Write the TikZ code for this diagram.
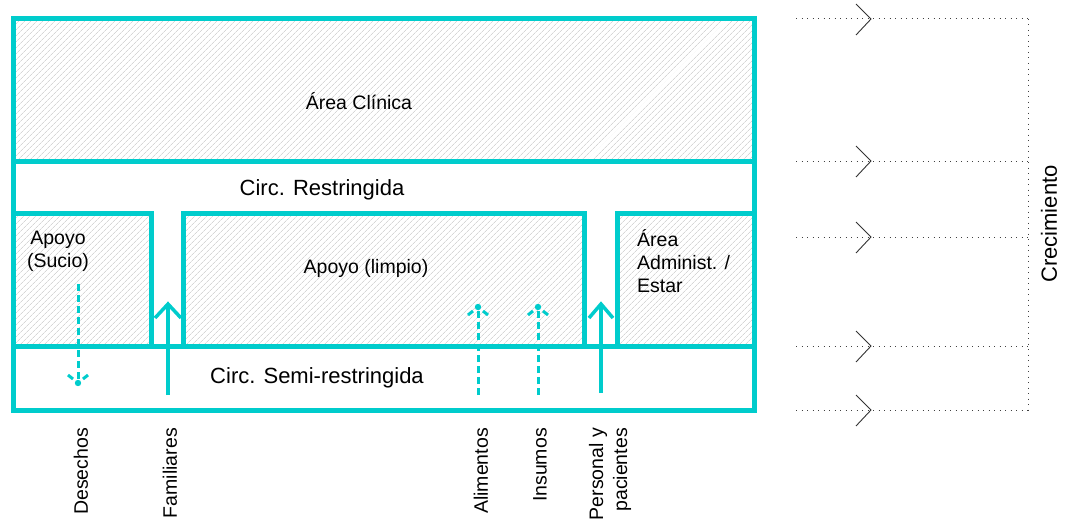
\documentclass[tikz,border=0pt]{standalone}
\usepackage{fontspec}
\setmainfont{Liberation Sans}
\usetikzlibrary{patterns.meta}
\definecolor{tealwall}{HTML}{00CCCC}
\definecolor{hatchgray}{HTML}{D6D6D6}
\begin{document}
\begin{tikzpicture}[x=1pt,y=-1pt,
  wall/.style={draw=tealwall,line width=5pt},
  zone/.style={pattern={Lines[angle=45,distance=4pt,line width=0.7pt]},pattern color=hatchgray},
  lbl/.style={font=\fontsize{19.5}{23}\selectfont,text=black,align=center,inner sep=0pt},
  big/.style={font=\fontsize{22}{26}\selectfont,text=black,inner sep=0pt},
  vlbl/.style={font=\fontsize{19.5}{24}\selectfont,text=black,rotate=90,anchor=east,inner sep=0pt,align=right},
  flow/.style={draw=tealwall,line width=3.5pt},
  dflow/.style={draw=tealwall,line width=3pt,dash pattern=on 7pt off 4pt},
  dhead/.style={draw=tealwall,line width=3pt},
  growline/.style={draw=black!75,line width=1pt,dash pattern=on 1pt off 4.5pt},
  chev/.style={draw=black!80,line width=0.9pt}]

\useasboundingbox (0,0) rectangle (1065,519);

% hatched zones
\path[zone] (13,19) rectangle (754,161);
\path[zone] (13,213) rectangle (151,346);
\path[zone] (183,213) rectangle (584,346);
\path[zone] (617,213) rectangle (754,346);

% walls
\draw[wall] (13,19) rectangle (754,410);
\draw[wall] (13,161) -- (754,161);
\draw[wall] (13,346) -- (754,346);
\draw[wall] (13,213) -- (151,213) -- (151,346);
\draw[wall] (183,346) -- (183,213) -- (584,213) -- (584,346);
\draw[wall] (617,346) -- (617,213) -- (754,213);

% zone labels
\node[lbl] (clin) at (359,101) {Área Clínica};
\node[big] (crest) at (322,190) {Circ. Restringida};
\node[lbl] (sucio) at (58,251) {Apoyo\\(Sucio)};
\node[lbl] (limpio) at (366,268) {Apoyo (limpio)};
\node[lbl,align=left,anchor=west] (admin) at (637,261) {Área\\Administ. /\\Estar};
\node[big] (csemi) at (317,378) {Circ. Semi-restringida};

% flow labels
\node[vlbl] (desechos) at (81,428) {Desechos};
\node[vlbl] (familiares) at (170,428) {Familiares};
\node[vlbl] (alimentos) at (481,428) {Alimentos};
\node[vlbl] (insumos) at (540,428) {Insumos};
\node[vlbl] (personal) at (610,428) {Personal y\\pacientes};

% solid flows
\coordinate (famS) at (168,395); \coordinate (famE) at (168,304);
\draw[flow] (famS) -- (famE);
\draw[flow] ([shift={(-13,14)}]famE) -- (famE) -- ([shift={(13,14)}]famE);
\coordinate (perS) at (601,393); \coordinate (perE) at (601,304);
\draw[flow] (perS) -- (perE);
\draw[flow] ([shift={(-12,14)}]perE) -- (perE) -- ([shift={(12,14)}]perE);

% dashed flows
\coordinate (desS) at (78,284); \coordinate (desE) at (78,383);
\draw[dflow] (desS) -- (desE);
\draw[dhead] ([shift={(-10,-8)}]desE) -- ([shift={(-5,-4)}]desE);
\draw[dhead] ([shift={(10,-8)}]desE) -- ([shift={(5,-4)}]desE);
\fill[tealwall] (desE) circle (3.2);

\coordinate (aliS) at (478,395); \coordinate (aliE) at (478,307);
\draw[dflow] (aliS) -- (aliE);
\draw[dhead] ([shift={(-10,8)}]aliE) -- ([shift={(-5,4)}]aliE);
\draw[dhead] ([shift={(10,8)}]aliE) -- ([shift={(5,4)}]aliE);
\fill[tealwall] (aliE) circle (3.2);

\coordinate (insS) at (538,395); \coordinate (insE) at (538,307);
\draw[dflow] (insS) -- (insE);
\draw[dhead] ([shift={(-10,8)}]insE) -- ([shift={(-5,4)}]insE);
\draw[dhead] ([shift={(10,8)}]insE) -- ([shift={(5,4)}]insE);
\fill[tealwall] (insE) circle (3.2);

% growth
\foreach \yy/\nm in {19/ga,161/gb,237/gc,346/gd,410/ge}{
  \coordinate (\nm s) at (796,\yy);
  \coordinate (\nm e) at (1028,\yy);
  \coordinate (\nm c) at (871,\yy);
  \draw[growline] (\nm s) -- (\nm e);
  \draw[chev] ([shift={(-15,-15)}]\nm c) -- (\nm c) -- ([shift={(-15,16)}]\nm c);
}
\draw[growline] (gae) -- (gee);
\node[big,rotate=90] (crec) at (1049,224) {Crecimiento};
\end{tikzpicture}
\end{document}
